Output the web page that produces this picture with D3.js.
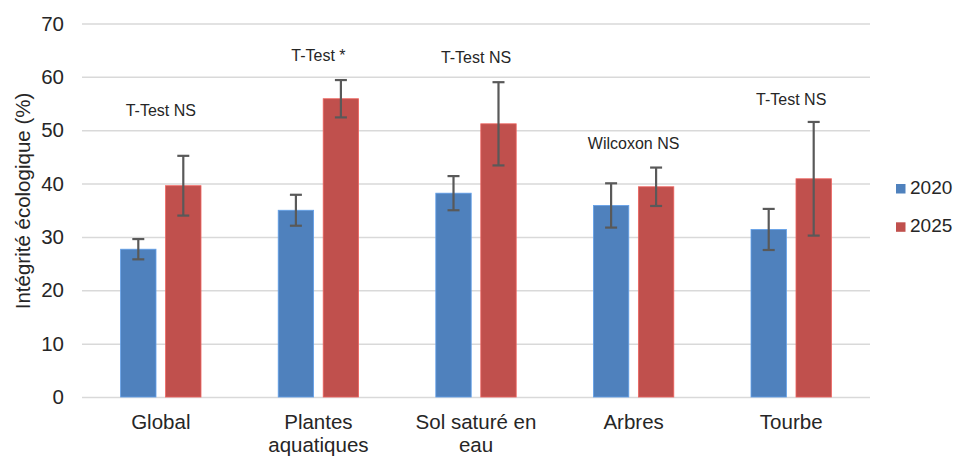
<!DOCTYPE html>
<html lang="fr">
<head>
<meta charset="utf-8">
<script src="https://cdn.jsdelivr.net/npm/d3@7"></script>
<style>
  html, body { margin: 0; padding: 0; background: #fff; }
  svg { display: block; font-family: "Liberation Sans", Arial, sans-serif; }
</style>
</head>
<body>
<svg id="chart" width="960" height="457"></svg>
<script>
// Catégories (libellés sur deux lignes quand nécessaire)
const categories = ["Global", "Plantes aquatiques", "Sol saturé en eau", "Arbres", "Tourbe"];
const categoryLines = [["Global"], ["Plantes", "aquatiques"], ["Sol saturé en", "eau"], ["Arbres"], ["Tourbe"]];
const series = ["2020", "2025"];

// Intégrité écologique moyenne (%) et barres d'erreur
const values2020 = [27.7, 35.0, 38.2, 35.9, 31.4];
const values2025 = [39.6, 55.9, 51.2, 39.4, 40.9];
const errors2020 = [1.9, 2.9, 3.2, 4.15, 3.85];
const errors2025 = [5.6, 3.5, 7.8, 3.6, 10.65];

// Résultats des tests statistiques et hauteur (en %) de chaque étiquette
const testLabels = ["T-Test NS", "T-Test *", "T-Test NS", "Wilcoxon NS", "T-Test NS"];
const testLabelLevels = [53.8, 64.0, 63.7, 47.5, 55.7];

const yTicks = [0, 10, 20, 30, 40, 50, 60, 70];
const colors = { "2020": "#4f81bd", "2025": "#c0504d" };

const svg = d3.select("#chart");
const plot = { left: 82, right: 870, top: 23.5, bottom: 397 };

const x0 = d3.scaleBand().domain(categories).range([plot.left, plot.right]);
const pairWidth = 80.4;
const x1 = d3.scaleBand().domain(series).range([-pairWidth / 2, pairWidth / 2]).paddingInner(0.213);
const y = d3.scaleLinear().domain([0, 70]).range([plot.bottom, plot.top]);

// Grille horizontale
const yAxis = d3.axisLeft(y).tickValues(yTicks).tickSize(-(plot.right - plot.left)).tickPadding(18);
const gy = svg.append("g").attr("transform", `translate(${plot.left},0)`).call(yAxis);
gy.select(".domain").remove();
gy.selectAll(".tick line").attr("stroke", "#d9d9d9").attr("stroke-width", 1.5);
gy.selectAll(".tick text")
  .attr("font-size", 20.5).attr("fill", "#262626")
  .attr("font-family", "'Liberation Sans', Arial, sans-serif");

// Données regroupées par catégorie
const rows = categories.map((c, i) => ({
  category: c,
  lines: categoryLines[i],
  label: testLabels[i],
  labelLevel: testLabelLevels[i],
  bars: [
    { key: "2020", value: values2020[i], err: errors2020[i] },
    { key: "2025", value: values2025[i], err: errors2025[i] }
  ]
}));

const groups = svg.append("g").selectAll("g.cat").data(rows).join("g")
  .attr("class", "cat")
  .attr("transform", d => `translate(${x0(d.category) + x0.bandwidth() / 2},0)`);

// Barres
groups.selectAll("rect").data(d => d.bars).join("rect")
  .attr("x", b => x1(b.key))
  .attr("width", x1.bandwidth())
  .attr("y", b => y(b.value))
  .attr("height", b => y(0) - y(b.value))
  .attr("fill", b => colors[b.key])
  .attr("stroke", b => d3.color(colors[b.key]).brighter(0.6))
  .attr("stroke-width", 0.8);

// Barres d'erreur
const capHalf = 6;
const err = groups.selectAll("g.err").data(d => d.bars).join("g").attr("class", "err")
  .attr("stroke", "#595959").attr("stroke-width", 2.2);
err.append("line")
  .attr("x1", b => x1(b.key) + x1.bandwidth() / 2)
  .attr("x2", b => x1(b.key) + x1.bandwidth() / 2)
  .attr("y1", b => y(b.value + b.err))
  .attr("y2", b => y(b.value - b.err));
err.append("line")
  .attr("x1", b => x1(b.key) + x1.bandwidth() / 2 - capHalf)
  .attr("x2", b => x1(b.key) + x1.bandwidth() / 2 + capHalf)
  .attr("y1", b => y(b.value + b.err))
  .attr("y2", b => y(b.value + b.err));
err.append("line")
  .attr("x1", b => x1(b.key) + x1.bandwidth() / 2 - capHalf)
  .attr("x2", b => x1(b.key) + x1.bandwidth() / 2 + capHalf)
  .attr("y1", b => y(b.value - b.err))
  .attr("y2", b => y(b.value - b.err));

// Étiquettes des tests statistiques
groups.append("text")
  .attr("x", 0)
  .attr("y", d => y(d.labelLevel))
  .attr("dy", "0.35em")
  .attr("text-anchor", "middle")
  .attr("font-size", 16)
  .attr("fill", "#262626")
  .text(d => d.label);

// Libellés des catégories
const xl = groups.append("text")
  .attr("text-anchor", "middle")
  .attr("font-size", 20.5)
  .attr("fill", "#262626");
xl.selectAll("tspan").data(d => d.lines).join("tspan")
  .attr("x", 0)
  .attr("y", (l, i) => 429 + i * 22.5)
  .text(l => l);

// Titre de l'axe vertical
svg.append("text")
  .attr("transform", "translate(30,201) rotate(-90)")
  .attr("text-anchor", "middle")
  .attr("font-size", 20.5)
  .attr("fill", "#262626")
  .text("Intégrité écologique (%)");

// Légende
const legend = svg.append("g").selectAll("g").data(series).join("g")
  .attr("transform", (s, i) => `translate(896,${184 + i * 38.3})`);
legend.append("rect").attr("width", 9.5).attr("height", 9.5).attr("fill", s => colors[s]);
legend.append("text")
  .attr("x", 14).attr("y", 9.5)
  .attr("font-size", 19).attr("fill", "#262626")
  .text(s => s);
</script>
</body>
</html>
